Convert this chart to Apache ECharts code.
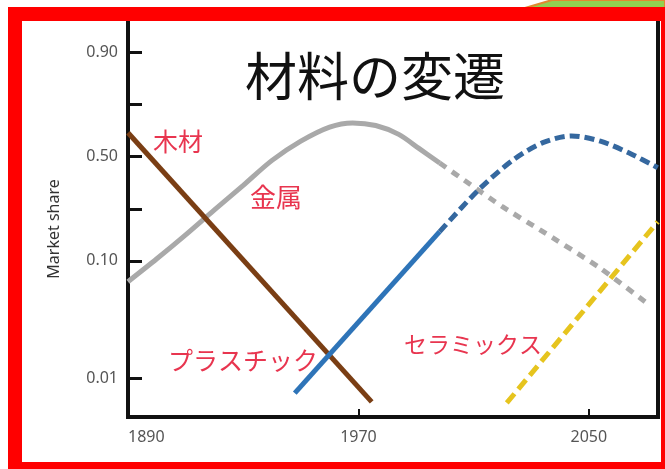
<!DOCTYPE html>
<html lang="ja">
<head>
    <meta charset="UTF-8">
    <title>材料の変遷</title>
    <script src="https://cdn.jsdelivr.net/npm/echarts/dist/echarts.min.js"></script>
    <style>
        html, body { margin: 0; padding: 0; background: #fff; }
        #chart { width: 665px; height: 469px; }
    </style>
</head>
<body>
<div id="chart"></div>
<script type="text/javascript">
    // x: year, y: position on the (schematic) market share axis
    var xTicks = [1890, 1970, 2050];
    var yTickValues = [0.75, 3, 4, 5, 6, 7];
    var yTickLabels = ['0.01', '0.10', '', '0.50', '', '0.90'];

    var woodData = [[1890, 5.46], [1974.6, 0.29]];
    var metalSolid = [[1890, 2.6], [1900, 3.04], [1910, 3.5], [1920, 3.98], [1930, 4.45], [1940, 4.93],
        [1950, 5.3], [1960, 5.57], [1968, 5.65], [1976, 5.6], [1984, 5.43], [1991, 5.16], [1998.2, 4.88]];
    var metalDashed = [[1998.2, 4.88], [2008, 4.5], [2020, 4.04], [2032.9, 3.6], [2053.7, 2.87], [2070.1, 2.19]];
    var plasticSolid = [[1947.9, 0.46], [1998.2, 3.56]];
    var plasticDashed = [[1998.2, 3.56], [2012, 4.38], [2024, 4.95], [2034, 5.27], [2044, 5.4],
        [2054, 5.3], [2064, 5.07], [2073.9, 4.79]];
    var ceramicDashed = [[2021.5, 0.27], [2073.9, 3.75]];

    var chart = echarts.init(document.getElementById('chart'));

    function lineSeries(name, data, color, dash, smooth) {
        return {
            name: name,
            type: 'line',
            data: data,
            smooth: smooth,
            showSymbol: false,
            silent: true,
            lineStyle: { color: color, width: 5, type: dash ? dash : 'solid', cap: 'butt' }
        };
    }

    var redText = { fill: '#e8354f', fontFamily: 'Noto Sans CJK JP', align: 'center', verticalAlign: 'middle' };

    var option = {
        backgroundColor: '#ffffff',
        animation: false,
        grid: {
            left: 128, right: 7, top: 11, bottom: 52,
            show: true, borderColor: '#111', borderWidth: 4
        },
        xAxis: {
            type: 'value',
            min: 1890,
            max: 2074,
            axisLine: { show: false },
            splitLine: { show: false },
            axisTick: {
                inside: true, length: 8, customValues: xTicks,
                lineStyle: { color: '#111', width: 2 }
            },
            axisLabel: {
                customValues: xTicks,
                alignMinLabel: 'left',
                margin: 12,
                color: '#555',
                fontSize: 16,
                fontFamily: 'Noto Sans',
                formatter: function (v) { return String(v); }
            }
        },
        yAxis: {
            type: 'value',
            min: 0,
            max: 7.8,
            axisLine: { show: false },
            splitLine: { show: false },
            axisTick: {
                inside: true, length: 14, customValues: yTickValues,
                lineStyle: { color: '#111', width: 3 }
            },
            axisLabel: {
                customValues: yTickValues,
                margin: 10,
                color: '#555',
                fontSize: 16,
                fontFamily: 'Noto Sans',
                formatter: function (v) {
                    var i = yTickValues.indexOf(v);
                    return i >= 0 ? yTickLabels[i] : '';
                }
            }
        },
        series: [
            lineSeries('金属', metalSolid, '#a9a9a9', null, 0.3),
            lineSeries('金属 予測', metalDashed, '#a9a9a9', [8, 7], 0.2),
            lineSeries('木材', woodData, '#7a3e14', null, false),
            lineSeries('プラスチック', plasticSolid, '#2e74b8', null, false),
            lineSeries('プラスチック 予測', plasticDashed, '#35689f', [10, 5], 0.3),
            lineSeries('セラミックス', ceramicDashed, '#e6c41e', [12, 6], false)
        ],
        graphic: [
            {
                type: 'text', x: 375, y: 76, z: 50,
                style: { text: '材料の変遷', fill: '#111', fontSize: 52,
                    fontFamily: 'Noto Sans CJK JP', align: 'center', verticalAlign: 'middle' }
            },
            {
                type: 'text', x: 54, y: 229, rotation: Math.PI / 2, z: 50,
                style: { text: 'Market share', fill: '#333', fontSize: 16, fontFamily: 'Noto Sans',
                    align: 'center', verticalAlign: 'middle' }
            },
            { type: 'text', x: 178, y: 141, z: 50,
                style: Object.assign({ text: '木材', fontSize: 25 }, redText) },
            { type: 'text', x: 276, y: 197, z: 50,
                style: Object.assign({ text: '金属', fontSize: 26 }, redText) },
            { type: 'text', x: 243, y: 360, z: 50,
                style: Object.assign({ text: 'プラスチック', fontSize: 25 }, redText) },
            { type: 'text', x: 473, y: 344, z: 50,
                style: Object.assign({ text: 'セラミックス', fontSize: 23 }, redText) },
            // green slide decoration behind the frame
            {
                type: 'polygon', z: 90,
                shape: { points: [[525, 8], [552, 0], [665, 0], [665, 8]] },
                style: { fill: '#92d050', stroke: '#e08a30', lineWidth: 2 }
            },
            // red frame
            {
                type: 'rect', z: 100,
                shape: { x: 15, y: 14, width: 653, height: 455 },
                style: { fill: null, stroke: '#ff0000', lineWidth: 14 }
            }
        ]
    };
    chart.setOption(option);
</script>
</body>
</html>
